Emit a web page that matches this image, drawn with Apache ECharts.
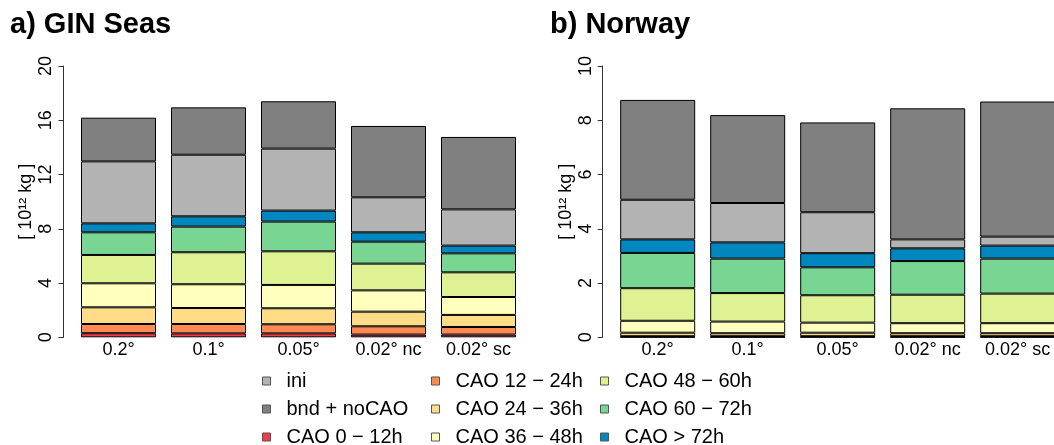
<!DOCTYPE html>
<html>
<head>
<meta charset="utf-8">
<script src="https://cdn.jsdelivr.net/npm/echarts@6/dist/echarts.min.js"></script>
<style>
html,body{margin:0;padding:0;background:#fff;}
#chart{width:1054px;height:445px;}
</style>
</head>
<body>
<div id="chart"></div>
<script>
// ---- data ----
const categories = ['0.2°', '0.1°', '0.05°', '0.02° nc', '0.02° sc'];
const seriesNames = ['CAO 0 − 12h', 'CAO 12 − 24h', 'CAO 24 − 36h', 'CAO 36 − 48h',
  'CAO 48 − 60h', 'CAO 60 − 72h', 'CAO > 72h', 'ini', 'bnd + noCAO'];

// a) GIN Seas (10^12 kg), stacked from bottom
const gin_cao0_12  = [0.30, 0.29, 0.29, 0.20, 0.20];
const gin_cao12_24 = [0.68, 0.69, 0.67, 0.61, 0.56];
const gin_cao24_36 = [1.23, 1.18, 1.18, 1.08, 0.89];
const gin_cao36_48 = [1.77, 1.75, 1.72, 1.57, 1.32];
const gin_cao48_60 = [2.09, 2.36, 2.48, 1.97, 1.82];
const gin_cao60_72 = [1.67, 1.89, 2.19, 1.62, 1.40];
const gin_cao72    = [0.66, 0.76, 0.81, 0.69, 0.57];
const gin_ini      = [4.57, 4.54, 4.57, 2.58, 2.67];
const gin_bnd      = [3.22, 3.49, 3.49, 5.26, 5.34];

// b) Norway (10^12 kg)
const nor_cao0_12  = [0.01, 0.01, 0.01, 0.01, 0.01];
const nor_cao12_24 = [0.03, 0.03, 0.03, 0.03, 0.03];
const nor_cao24_36 = [0.13, 0.11, 0.13, 0.11, 0.11];
const nor_cao36_48 = [0.44, 0.43, 0.37, 0.37, 0.37];
const nor_cao48_60 = [1.20, 1.05, 1.01, 1.05, 1.09];
const nor_cao60_72 = [1.30, 1.27, 1.03, 1.24, 1.29];
const nor_cao72    = [0.50, 0.60, 0.52, 0.47, 0.48];
const nor_ini      = [1.46, 1.45, 1.51, 0.33, 0.33];
const nor_bnd      = [3.68, 3.24, 3.31, 4.83, 4.98];

const ginTicks = [0, 4, 8, 12, 16, 20];
const norTicks = [0, 2, 4, 6, 8, 10];

// ---- styling ----
const colors = ['#F03C4A', '#FF8B52', '#FFDD87', '#FFFFBE', '#DFF293', '#78D592', '#0087BF', '#B3B3B3', '#808080'];
const FONT = 'Liberation Sans';

const ginData = [gin_cao0_12, gin_cao12_24, gin_cao24_36, gin_cao36_48, gin_cao48_60, gin_cao60_72, gin_cao72, gin_ini, gin_bnd];
const norData = [nor_cao0_12, nor_cao12_24, nor_cao24_36, nor_cao36_48, nor_cao48_60, nor_cao60_72, nor_cao72, nor_ini, nor_bnd];

function mkSeries(dataSets, idx) {
  return dataSets.map((d, i) => ({
    name: seriesNames[i],
    type: 'bar',
    xAxisIndex: idx,
    yAxisIndex: idx,
    stack: 'panel' + idx,
    barWidth: 75,
    data: d,
    itemStyle: { color: colors[i], borderColor: '#000', borderWidth: 1 },
    emphasis: { disabled: true },
    animation: false
  }));
}

function yAxisFor(idx, ticks) {
  return {
    type: 'value',
    gridIndex: idx,
    min: ticks[0],
    max: ticks[ticks.length - 1],
    interval: ticks[1] - ticks[0],
    offset: 10,
    name: '[ 10¹² kg ]',
    nameLocation: 'middle',
    nameGap: 28,
    nameTextStyle: { fontFamily: FONT, fontSize: 18, color: '#000' },
    axisLine: { show: true, lineStyle: { color: '#333', width: 1 } },
    axisTick: { show: true, length: 5, lineStyle: { color: '#333' } },
    axisLabel: { rotate: 90, fontFamily: FONT, fontSize: 18, color: '#000', margin: 8 },
    splitLine: { show: false }
  };
}

function xAxisFor(idx) {
  return {
    type: 'category',
    gridIndex: idx,
    data: categories,
    axisLine: { show: false },
    axisTick: { show: false },
    axisLabel: { fontFamily: FONT, fontSize: 18, color: '#000', margin: 4, interval: 0 }
  };
}

const legendCommon = {
  orient: 'vertical',
  top: 371,
  height: 90,
  padding: 0,
  itemWidth: 8,
  itemHeight: 8,
  itemGap: 8,
  icon: 'rect',
  selectedMode: false,
  itemStyle: { borderColor: '#555', borderWidth: 1 },
  textStyle: { fontFamily: FONT, fontSize: 20, color: '#000', lineHeight: 20, padding: [0, 0, 0, 11] }
};

const titleStyle = { fontFamily: FONT, fontSize: 29, fontWeight: 'bold', color: '#000' };

const option = {
  backgroundColor: '#fff',
  animation: false,
  title: [
    { text: 'a) GIN Seas', left: 5, top: 5, textStyle: titleStyle },
    { text: 'b) Norway', left: 545, top: 5, textStyle: titleStyle }
  ],
  grid: [
    { left: 73.5, width: 450, top: 66, bottom: 107.7, outerBoundsMode: 'none', containLabel: false },
    { left: 612.7, width: 450, top: 66, bottom: 107.7, outerBoundsMode: 'none', containLabel: false }
  ],
  xAxis: [xAxisFor(0), xAxisFor(1)],
  yAxis: [yAxisFor(0, ginTicks), yAxisFor(1, norTicks)],
  legend: [
    Object.assign({}, legendCommon, { left: 262, data: ['ini', 'bnd + noCAO', 'CAO 0 − 12h'] }),
    Object.assign({}, legendCommon, { left: 431, data: ['CAO 12 − 24h', 'CAO 24 − 36h', 'CAO 36 − 48h'] }),
    Object.assign({}, legendCommon, { left: 600, data: ['CAO 48 − 60h', 'CAO 60 − 72h', 'CAO > 72h'] })
  ],
  series: mkSeries(ginData, 0).concat(mkSeries(norData, 1))
};

const chart = echarts.init(document.getElementById('chart'), null, { renderer: 'canvas' });
chart.setOption(option);
</script>
</body>
</html>
